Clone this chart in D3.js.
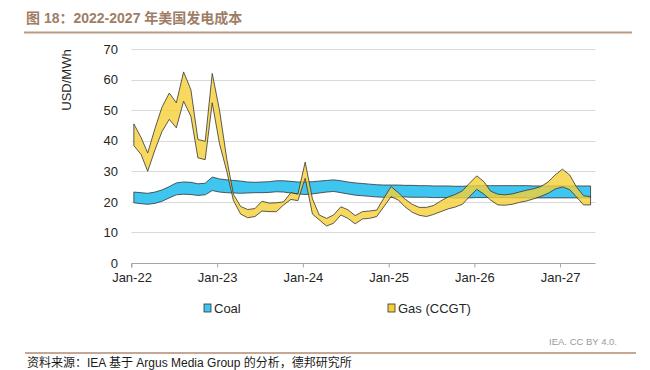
<!DOCTYPE html>
<html lang="zh">
<head>
<meta charset="UTF-8">
<title>2022-2027 年美国发电成本</title>
<script src="https://d3js.org/d3.v7.min.js"></script>
<style>
  body { margin: 0; background: #fff; }
  svg { display: block; font-family: "Liberation Sans", Arial, sans-serif; }
  .grid line { stroke: #d9d9d9; stroke-width: 1; }
  .tick-label { font-size: 13px; fill: #262626; }
  .band { stroke: #333; stroke-width: 0.8; stroke-linejoin: round; }
</style>
</head>
<body>
<svg width="650" height="370"></svg>
<script>
// monthly values, Jan-22 .. May-27 (USD/MWh)
const coalHigh = [23.2, 23.0, 22.8, 23.2, 23.9, 25.0, 26.2, 26.5, 26.4, 25.9, 26.1, 28.1, 27.5,
  27.2, 27.0, 26.8, 26.5, 26.4, 26.5, 26.6, 26.9, 26.9, 26.7, 26.5, 26.5,
  26.6, 26.8, 27.0, 27.2, 26.9, 26.5, 26.2, 26.0, 25.8, 25.6, 25.5, 25.5,
  25.5, 25.4, 25.4, 25.3, 25.3, 25.2, 25.2, 25.2, 25.1, 25.1, 25.2, 25.3,
  25.3, 25.3, 25.3, 25.3, 25.3, 25.3, 25.3, 25.2, 25.2, 25.2, 25.2, 25.2, 25.2, 25.2, 25.2, 25.2];
const coalLow = [19.7, 19.4, 19.2, 19.5, 20.2, 21.3, 22.3, 22.5, 22.4, 22.1, 22.3, 23.7, 23.2,
  23.0, 22.9, 22.8, 22.9, 23.0, 23.0, 23.1, 23.3, 23.2, 22.9, 22.6, 22.4,
  22.6, 22.9, 23.2, 23.4, 23.0, 22.6, 22.2, 22.0, 21.8, 21.6, 21.5, 21.5,
  21.6, 21.6, 21.5, 21.5, 21.5, 21.4, 21.4, 21.4, 21.3, 21.3, 21.3, 21.4,
  21.4, 21.4, 21.4, 21.4, 21.3, 21.3, 21.3, 21.3, 21.3, 21.3, 21.3, 21.3, 21.3, 21.3, 21.3, 21.3];
const gasHigh = [45.5, 41.0, 36.0, 44.0, 51.0, 55.6, 52.4, 62.5, 56.7, 40.4, 39.8, 62.0, 50.0,
  34.0, 22.5, 18.5, 17.5, 17.8, 20.2, 19.6, 19.7, 20.0, 23.0, 22.5, 33.0,
  21.0, 15.7, 14.6, 15.7, 18.4, 17.4, 15.5, 16.8, 17.0, 17.3, 21.2, 25.0,
  23.0, 20.9, 19.2, 18.2, 18.2, 18.8, 20.3, 21.6, 22.4, 23.6, 26.1, 28.5,
  26.6, 23.5, 22.5, 22.3, 22.6, 23.2, 23.8, 24.3, 25.0, 26.5, 28.8, 30.7, 28.8, 25.0, 22.0, 21.7];
const gasLow = [38.4, 35.5, 30.0, 37.0, 43.0, 47.0, 44.2, 52.9, 48.0, 34.4, 33.8, 52.4, 39.0,
  30.0, 20.5, 16.0, 14.8, 15.2, 17.0, 16.8, 16.8, 19.0, 20.8, 20.4, 27.7,
  16.0, 14.1, 12.1, 13.0, 15.7, 14.6, 12.8, 14.4, 14.6, 15.2, 18.4, 21.7,
  20.6, 18.4, 16.6, 15.6, 15.2, 15.9, 16.8, 17.7, 18.3, 19.2, 21.7, 24.1,
  22.5, 20.6, 19.0, 18.9, 19.2, 19.8, 20.3, 21.0, 21.8, 22.8, 24.2, 24.9, 24.0, 21.7, 19.0, 19.0];
const yTicks = [0, 10, 20, 30, 40, 50, 60, 70];
const xTickYears = [2022, 2023, 2024, 2025, 2026, 2027];
const seriesNames = ["Coal", "Gas (CCGT)"];
const seriesColors = ["#3ec6f0", "#f6cf37"];

// one point per month, placed a little after the start of the month
const months = d3.timeMonth.range(new Date(2022, 0, 1), new Date(2027, 4, 2))
  .map(d => d3.timeDay.offset(d, 10));

const svg = d3.select("svg");

const x = d3.scaleTime()
  .domain([new Date(2022, 0, 1), new Date(2027, 5, 1)])
  .range([131.5, 595.5]);
const y = d3.scaleLinear().domain([0, 70]).range([263, 49]);

// title + rules
svg.append("text")
  .attr("x", 26).attr("y", 23)
  .attr("font-size", 14).attr("font-weight", "bold")
  .attr("fill", "#9e7e66")
  .attr("font-family", "'Liberation Sans', 'Noto Sans CJK SC', sans-serif")
  .text("图 18：2022-2027 年美国发电成本");
svg.append("line").attr("x1", 24).attr("x2", 632).attr("y1", 32.5).attr("y2", 32.5)
  .attr("stroke", "#b69b86").attr("stroke-width", 2);

// gridlines
svg.append("g").attr("class", "grid")
  .selectAll("line").data(yTicks.filter(v => v > 0)).enter()
  .append("line")
  .attr("x1", x.range()[0]).attr("x2", x.range()[1])
  .attr("y1", d => Math.round(y(d)) + 0.5).attr("y2", d => Math.round(y(d)) + 0.5);

// y labels
svg.append("g").selectAll("text").data(yTicks).enter()
  .append("text").attr("class", "tick-label")
  .attr("x", 118).attr("y", d => y(d))
  .attr("dy", "0.36em").attr("text-anchor", "end")
  .text(d => d);

svg.append("text")
  .attr("transform", "translate(71,80) rotate(-90)")
  .attr("text-anchor", "middle").attr("font-size", 13).attr("fill", "#262626")
  .text("USD/MWh");

// bands
const band = (hi, lo) => d3.area()
  .x((d, i) => x(months[i]))
  .y0((d, i) => y(lo[i]))
  .y1((d, i) => y(hi[i]));

svg.append("path").attr("class", "band")
  .attr("d", band(coalHigh, coalLow)(months))
  .attr("fill", seriesColors[0]);
svg.append("path").attr("class", "band")
  .attr("d", band(gasHigh, gasLow)(months))
  .attr("fill", seriesColors[1]).attr("fill-opacity", 0.8);

// x axis
const xAxis = d3.axisBottom(x)
  .tickValues(xTickYears.map(yr => new Date(yr, 0, 1)))
  .tickFormat(d3.timeFormat("%b-%y"))
  .tickSize(4).tickPadding(5);
const gx = svg.append("g").attr("transform", "translate(0,263.5)").call(xAxis);
gx.select(".domain").attr("stroke", "#a6a6a6").attr("d", `M${x.range()[0]},4V0H${x.range()[1]}`);
gx.selectAll(".tick line").attr("stroke", "#a6a6a6");
gx.selectAll(".tick text").attr("font-size", 13).attr("fill", "#262626")
  .attr("font-family", "'Liberation Sans', Arial, sans-serif");

// legend
const legendX = [204, 388];
const lg = svg.append("g").selectAll("g").data(seriesNames).enter()
  .append("g").attr("transform", (d, i) => `translate(${legendX[i]},304)`);
lg.append("rect").attr("width", 7).attr("height", 8)
  .attr("fill", (d, i) => seriesColors[i]).attr("stroke", "#333").attr("stroke-width", 0.8);
lg.append("text").attr("x", 10).attr("y", 9).attr("font-size", 13).attr("fill", "#262626")
  .text(d => d);

svg.append("text").attr("x", 617).attr("y", 345)
  .attr("text-anchor", "end").attr("font-size", 9.5).attr("fill", "#9a9a9a")
  .text("IEA. CC BY 4.0.");

svg.append("line").attr("x1", 25).attr("x2", 636).attr("y1", 353).attr("y2", 353)
  .attr("stroke", "#b08a70").attr("stroke-width", 1.5);
svg.append("text").attr("x", 27).attr("y", 367)
  .attr("font-size", 12).attr("fill", "#1a1a1a")
  .attr("font-family", "'Liberation Sans', 'Noto Sans CJK SC', sans-serif")
  .text("资料来源：IEA 基于 Argus Media Group 的分析，德邦研究所");
</script>
</body>
</html>
